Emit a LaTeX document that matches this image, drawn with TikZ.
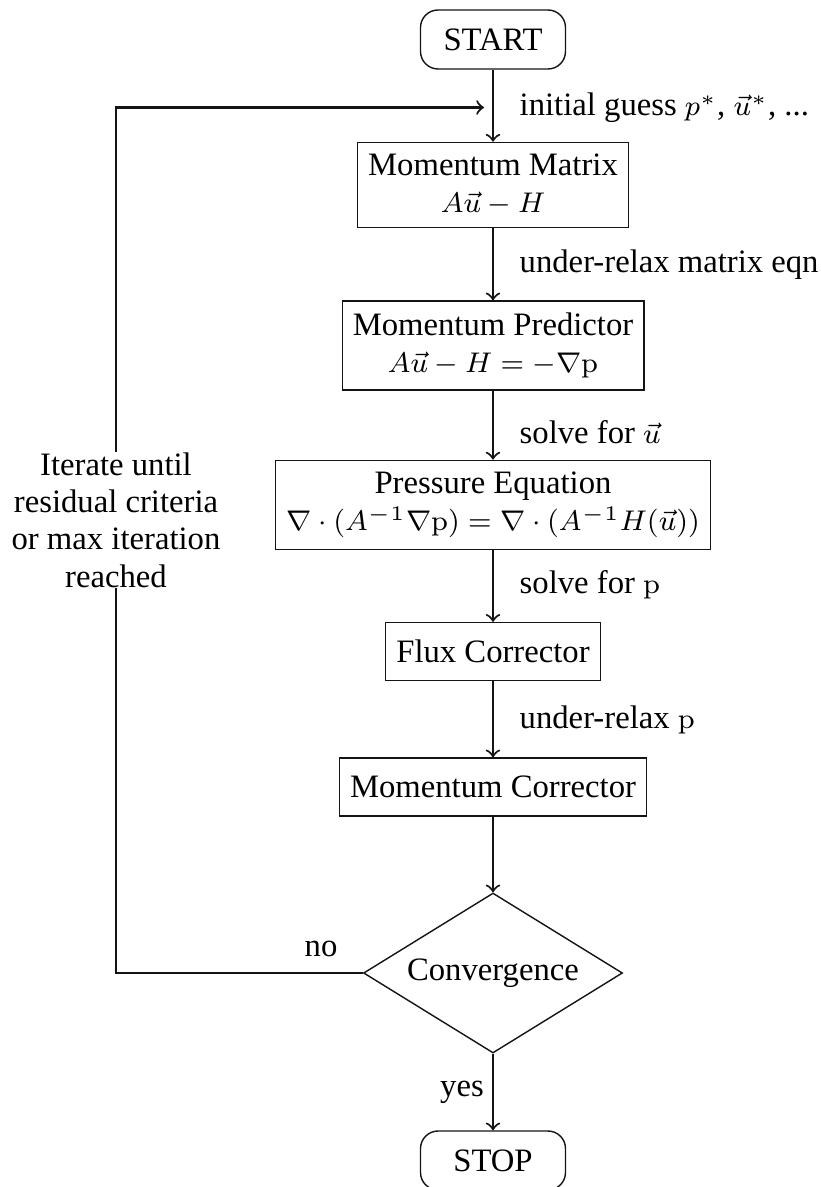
\RequirePackage{fix-cm}
\documentclass[tikz,border=0pt]{standalone}
\usepackage{amsmath, amssymb}
\usepackage[no-math]{fontspec}
\setmainfont{Liberation Serif}
\DeclareMathSizes{9.3}{8.1}{5.9}{4.6}
\usepackage{xcolor}
\usepackage{tikz}
\usetikzlibrary{shapes.geometric}
\definecolor{ink}{RGB}{20, 20, 20}

\begin{document}
\begin{tikzpicture}[font=\fontsize{9.3}{10.6}\selectfont,
  proc/.style={draw=ink,thin,rectangle,align=center,inner xsep=3pt,minimum height=0.58cm},
  twoline/.style={proc,minimum height=0.80cm},
  term/.style={draw=ink,thin,rectangle,rounded corners=5pt,minimum width=1.45cm,minimum height=0.59cm},
  decide/.style={draw=ink,thin,diamond,aspect=1.62,inner sep=0pt,minimum width=2.59cm,minimum height=1.6cm},
  flow/.style={ink,semithick,->},
  lbl/.style={anchor=west,inner sep=0pt}]
\useasboundingbox (0,0) rectangle (8.2,-11.87);
% main column
\node[term] (start) at (4.93,-0.395) {START};
\node[twoline] (mmat) at (4.93,-1.85) {Momentum Matrix\\ $A\vec{u}-H$};
\node[twoline] (mpred) at (4.93,-3.455) {Momentum Predictor\\ $A\vec{u}-H=-\nabla\mathrm{p}$};
\node[twoline] (peq) at (4.93,-5.05) {Pressure Equation\\ $\nabla\cdot(A^{-1}\nabla\mathrm{p})=\nabla\cdot(A^{-1}H(\vec{u}))$};
\node[proc] (flux) at (4.93,-6.515) {Flux Corrector};
\node[proc] (mcorr) at (4.93,-7.87) {Momentum Corrector};
\node[decide] (conv) at (4.93,-9.73) {Convergence};
\node[term] (stop) at (4.93,-11.605) {STOP};
% loop back
\coordinate (loopbot) at (1.16,-9.73);
\coordinate (looptop) at (1.16,-1.075);
\coordinate (join) at (4.84,-1.075);
\node[align=center,inner sep=0pt] (iter) at (1.16,-5.2) {Iterate until\\ residual criteria\\ or max iteration\\ reached};
% edge labels
\node[lbl] (lguess) at (5.19,-1.075) {initial guess $p^*$, $\vec{u}^*$, ...};
\node[lbl] (lrelax) at (5.19,-2.65) {under-relax matrix eqn};
\node[lbl] (lsolveu) at (5.19,-4.32) {solve for $\vec{u}$};
\node[lbl] (lsolvep) at (5.19,-5.85) {solve for $\mathrm{p}$};
\node[lbl] (lrelaxp) at (5.19,-7.2) {under-relax $\mathrm{p}$};
\node (lno) at (3.21,-9.49) {no};
\node (lyes) at (4.62,-10.92) {yes};
% connectors
\draw[flow] (start) -- (mmat);
\draw[flow] (mmat) -- (mpred);
\draw[flow] (mpred) -- (peq);
\draw[flow] (peq) -- (flux);
\draw[flow] (flux) -- (mcorr);
\draw[flow] (mcorr) -- (conv);
\draw[flow] (conv) -- (stop);
\draw[ink,semithick] (conv.west) -- (loopbot) -- (iter.south);
\draw[flow] (iter.north) -- (looptop) -- (join);
\end{tikzpicture}
\end{document}
